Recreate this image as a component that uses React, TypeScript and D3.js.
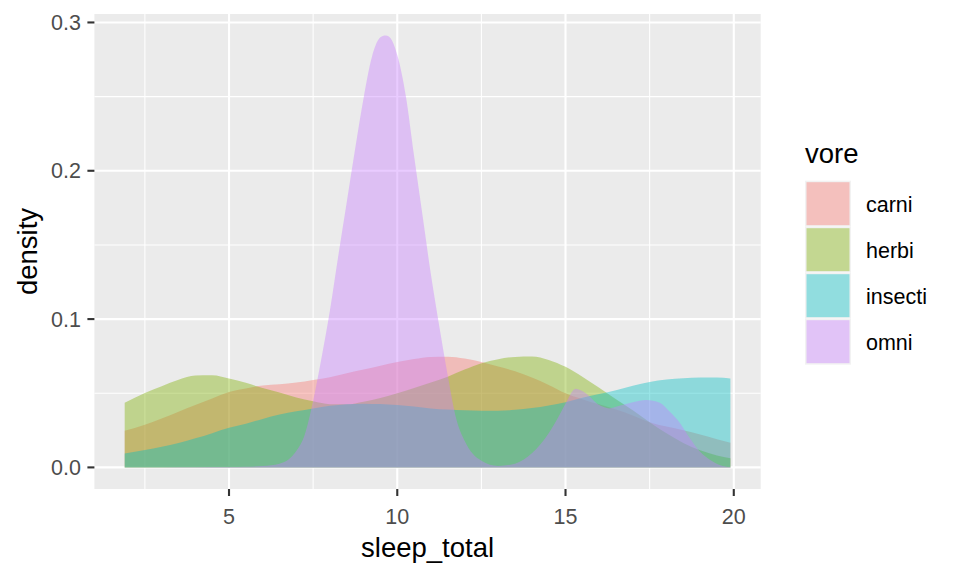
import React from "react";
import * as d3 from "d3";

// ---- data ----
const groups = ["carni", "herbi", "insecti", "omni"];
const groupColors = ["#F8766D", "#7CAE00", "#00BFC4", "#C77CFF"];

const gridX = [1.9, 2.5, 3.0, 3.5, 4.0, 4.5, 5.0, 5.5, 6.0, 6.5, 7.0, 7.5, 8.0, 8.5, 9.0, 9.5, 10.0, 10.5, 11.0, 11.5, 12.0, 12.5, 13.0, 13.5, 14.0, 14.5, 15.0, 15.5, 16.0, 16.5, 17.0, 17.5, 18.0, 18.5, 19.0, 19.5, 19.9];

const carniDensity = [0.0247, 0.0287, 0.0330, 0.0376, 0.0421, 0.0465, 0.0508, 0.0532, 0.0552, 0.0560, 0.0572, 0.0590, 0.0608, 0.0635, 0.0660, 0.0686, 0.0711, 0.0731, 0.0745, 0.0746, 0.0734, 0.0711, 0.0680, 0.0648, 0.0606, 0.0556, 0.0500, 0.0460, 0.0425, 0.0390, 0.0350, 0.0305, 0.0275, 0.0251, 0.0222, 0.0190, 0.0166];

const herbiDensity = [0.0436, 0.0502, 0.0547, 0.0591, 0.0619, 0.0622, 0.0600, 0.0570, 0.0535, 0.0505, 0.0472, 0.0446, 0.0426, 0.0425, 0.0443, 0.0468, 0.0500, 0.0535, 0.0572, 0.0612, 0.0660, 0.0703, 0.0730, 0.0745, 0.0748, 0.0725, 0.0678, 0.0612, 0.0537, 0.0460, 0.0385, 0.0305, 0.0230, 0.0165, 0.0115, 0.0080, 0.0061];

const insectiDensity = [0.0094, 0.0118, 0.0140, 0.0164, 0.0196, 0.0231, 0.0267, 0.0295, 0.0327, 0.0356, 0.0378, 0.0398, 0.0415, 0.0426, 0.0430, 0.0427, 0.0420, 0.0410, 0.0398, 0.0390, 0.0385, 0.0382, 0.0382, 0.0388, 0.0400, 0.0418, 0.0440, 0.0470, 0.0495, 0.0520, 0.0550, 0.0576, 0.0592, 0.0601, 0.0606, 0.0607, 0.0600];

const omniX = [1.9, 3.0, 4.0, 5.0, 5.5, 6.0, 6.5, 6.75, 7.0, 7.25, 7.5, 7.75, 8.0, 8.25, 8.5, 8.75, 9.0, 9.25, 9.5, 9.65, 9.75, 10.0, 10.25, 10.5, 10.75, 11.0, 11.25, 11.5, 11.75, 12.0, 12.25, 12.5, 13.0, 13.5, 14.0, 14.5, 14.75, 15.0, 15.3, 15.6, 16.0, 16.3, 16.6, 17.0, 17.4, 17.8, 18.1, 18.4, 18.7, 19.0, 19.3, 19.6, 19.9];
const omniDensity = [0.0, 0.0, 0.0001, 0.0002, 0.0004, 0.0009, 0.0025, 0.0050, 0.0110, 0.0220, 0.0450, 0.0740, 0.1060, 0.1430, 0.1790, 0.2150, 0.2490, 0.2770, 0.2900, 0.2912, 0.2905, 0.2780, 0.2510, 0.2100, 0.1700, 0.1300, 0.0950, 0.0620, 0.0330, 0.0180, 0.0090, 0.0045, 0.0010, 0.0025, 0.0095, 0.0230, 0.0325, 0.0430, 0.0530, 0.0500, 0.0420, 0.0398, 0.0415, 0.0440, 0.0455, 0.0436, 0.0375, 0.0300, 0.0195, 0.0105, 0.0050, 0.0015, 0.0002];

const xTicks = [5, 10, 15, 20];
const xMinor = [2.5, 7.5, 12.5, 17.5];
const yTicks = [0, 0.1, 0.2, 0.3];
const yMinor = [0.05, 0.15, 0.25];
const xTitle = "sleep_total";
const yTitle = "density";
const legendTitle = "vore";

const FONT = "'Liberation Sans', Arial, Helvetica, sans-serif";

export default function App() {
  const W = 960;
  const H = 576;
  const panel = { left: 94.4, right: 760.7, top: 14, bottom: 489 };

  const x = d3.scaleLinear().domain([1.0, 20.8]).range([panel.left, panel.right]);
  const y = d3.scaleLinear().domain([-0.01456, 0.3057]).range([panel.bottom, panel.top]);

  const series = [
    { name: groups[0], xs: gridX, ys: carniDensity, color: groupColors[0] },
    { name: groups[1], xs: gridX, ys: herbiDensity, color: groupColors[1] },
    { name: groups[2], xs: gridX, ys: insectiDensity, color: groupColors[2] },
    { name: groups[3], xs: omniX, ys: omniDensity, color: groupColors[3] },
  ];

  const area = d3
    .area<[number, number]>()
    .x((d) => x(d[0]))
    .y0(() => y(0))
    .y1((d) => y(Math.max(0, d[1])))
    .curve(d3.curveMonotoneX);

  const tickLen = 7;
  const tickCol = "#333333";
  const txtCol = "#4D4D4D";

  const legendX = 805;
  const keyTop = 180.7;
  const keyH = 46;
  const keyW = 46;

  return (
    <svg
      width={W}
      height={H}
      style={{ position: "absolute", left: 0, top: 0, background: "#FFFFFF" }}
      fontFamily={FONT}
    >
      <rect x={0} y={0} width={W} height={H} fill="#FFFFFF" />
      {/* panel */}
      <rect
        x={panel.left}
        y={panel.top}
        width={panel.right - panel.left}
        height={panel.bottom - panel.top}
        fill="#EBEBEB"
      />
      {/* minor grid */}
      {xMinor.map((v) => (
        <line key={"xm" + v} x1={x(v)} x2={x(v)} y1={panel.top} y2={panel.bottom} stroke="#FFFFFF" strokeWidth={1.05} />
      ))}
      {yMinor.map((v) => (
        <line key={"ym" + v} x1={panel.left} x2={panel.right} y1={y(v)} y2={y(v)} stroke="#FFFFFF" strokeWidth={1.05} />
      ))}
      {/* major grid */}
      {xTicks.map((v) => (
        <line key={"xM" + v} x1={x(v)} x2={x(v)} y1={panel.top} y2={panel.bottom} stroke="#FFFFFF" strokeWidth={2.1} />
      ))}
      {yTicks.map((v) => (
        <line key={"yM" + v} x1={panel.left} x2={panel.right} y1={y(v)} y2={y(v)} stroke="#FFFFFF" strokeWidth={2.1} />
      ))}

      {/* densities */}
      {series.map((s) => (
        <path
          key={s.name}
          d={area(s.xs.map((xv, i) => [xv, s.ys[i]] as [number, number])) || ""}
          fill={s.color}
          fillOpacity={0.4}
          stroke="none"
        />
      ))}

      {/* y axis */}
      {yTicks.map((v) => (
        <g key={"yt" + v}>
          <line x1={panel.left - tickLen} x2={panel.left} y1={y(v)} y2={y(v)} stroke={tickCol} strokeWidth={2.1} />
          <text x={panel.left - tickLen - 6.5} y={y(v) + 7.6} textAnchor="end" fontSize={21.5} fill={txtCol}>
            {v.toFixed(1)}
          </text>
        </g>
      ))}
      {/* x axis */}
      {xTicks.map((v) => (
        <g key={"xt" + v}>
          <line x1={x(v)} x2={x(v)} y1={panel.bottom} y2={panel.bottom + tickLen} stroke={tickCol} strokeWidth={2.1} />
          <text x={x(v)} y={panel.bottom + 35} textAnchor="middle" fontSize={21.5} fill={txtCol}>
            {v}
          </text>
        </g>
      ))}

      {/* axis titles */}
      <text x={(panel.left + panel.right) / 2} y={557} textAnchor="middle" fontSize={27.5} fill="#000000">
        {xTitle}
      </text>
      <text
        transform={`translate(${37},${(panel.top + panel.bottom) / 2}) rotate(-90)`}
        textAnchor="middle"
        fontSize={27.5}
        fill="#000000"
      >
        {yTitle}
      </text>

      {/* legend */}
      <text x={legendX} y={163} fontSize={27.5} fill="#000000">
        {legendTitle}
      </text>
      {groups.map((g, i) => (
        <g key={"lg" + g}>
          <rect x={legendX} y={keyTop + i * keyH} width={keyW} height={keyH} fill="#F2F2F2" />
          <rect
            x={legendX + 1.5}
            y={keyTop + i * keyH + 1.5}
            width={keyW - 3}
            height={keyH - 3}
            fill={groupColors[i]}
            fillOpacity={0.4}
          />
          <text x={866} y={keyTop + i * keyH + keyH / 2 + 8} fontSize={21.5} fill="#000000">
            {g}
          </text>
        </g>
      ))}
    </svg>
  );
}
